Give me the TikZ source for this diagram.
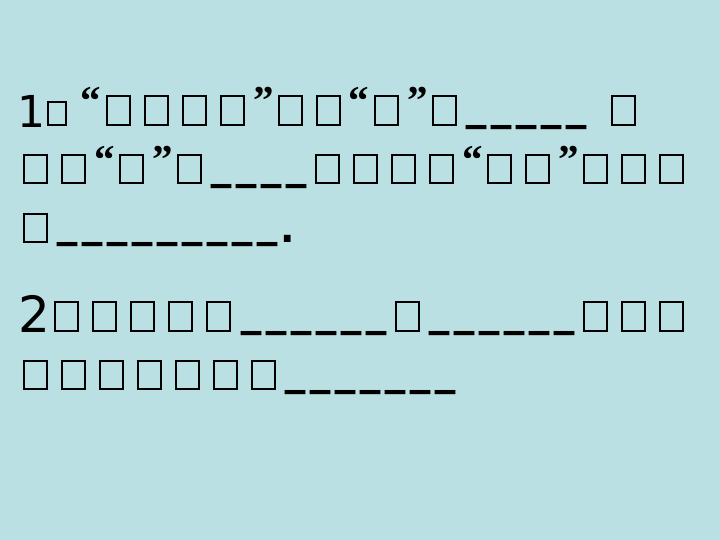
\documentclass[tikz,border=0pt]{standalone}
\usepackage{fontspec}
\setmainfont{DejaVu Sans}
\newfontfamily\quofont{Liberation Serif}[UprightFont=* Bold]
\usepackage{graphicx}
\definecolor{bgc}{RGB}{187,224,227}
\newcommand\dsh{\scalebox{1}[1.5]{\_}\kern5pt}
\tikzset{
  tofu/.style={draw=black, line width=1.6pt, inner sep=0pt, outer sep=0pt, anchor=north west, minimum width=23.4pt},
  digit/.style={inner sep=0pt, anchor=north west, font=\fontsize{44}{44}\selectfont},
  bigdigit/.style={inner sep=0pt, anchor=north west, font=\fontsize{50}{50}\selectfont},
  quo/.style={inner sep=0pt, anchor=north west, font=\quofont\fontsize{41}{41}\selectfont},
  blank/.style={inner sep=0pt, anchor=base west, font=\fontsize{40}{40}\selectfont},
  dot/.style={inner sep=0pt, anchor=base west, font=\bfseries\fontsize{38}{38}\selectfont}
}
\begin{document}
\begin{tikzpicture}[x=1pt,y=-1pt]
\fill[bgc] (0,0) rectangle (720,540);
\useasboundingbox (0,0) rectangle (720,540);
% ---------- line 1 ----------
\node[digit] (n1) at (17,95) {1};
\node[tofu, minimum width=18.4pt, minimum height=23.4pt] (c1) at (47.8,101.8) {};
\node[quo] (q1) at (80,87) {“};
\foreach \x [count=\i] in {106,144,182,220} \node[tofu, minimum height=29.4pt] (a\i) at (\x+0.8,95.8) {};
\node[quo] (q2) at (253,87) {”};
\foreach \x [count=\i] in {278,316} \node[tofu, minimum height=29.4pt] (b\i) at (\x+0.8,95.8) {};
\node[quo] (q3) at (348,87) {“};
\node[tofu, minimum height=29.4pt] (b3) at (374.8,95.8) {};
\node[quo] (q4) at (407,87) {”};
\node[tofu, minimum height=29.4pt] (b4) at (432.8,95.8) {};
\node[blank] (u1) at (466,115.5) {\dsh\dsh\dsh\dsh\dsh};
\node[tofu, minimum height=29.4pt] (b5) at (611.8,95.8) {};
% ---------- line 2 ----------
\foreach \x [count=\i] in {23,61} \node[tofu, minimum height=28.4pt] (d\i) at (\x+0.8,154.8) {};
\node[quo] (q5) at (94,146) {“};
\node[tofu, minimum height=28.4pt] (d3) at (119.8,154.8) {};
\node[quo] (q6) at (152,146) {”};
\node[tofu, minimum height=28.4pt] (d4) at (177.8,154.8) {};
\node[blank] (u2) at (211,174.5) {\dsh\dsh\dsh\dsh};
\foreach \x [count=\i] in {315,353,391,429} \node[tofu, minimum height=28.4pt] (e\i) at (\x+0.8,154.8) {};
\node[quo] (q7) at (462,146) {“};
\foreach \x [count=\i] in {487,525} \node[tofu, minimum height=28.4pt] (f\i) at (\x+0.8,154.8) {};
\node[quo] (q8) at (558,146) {”};
\foreach \x [count=\i] in {583,621,659} \node[tofu, minimum height=28.4pt] (g\i) at (\x+0.8,154.8) {};
% ---------- line 3 ----------
\node[tofu, minimum height=28.4pt] (h1) at (23.8,213.8) {};
\node[blank] (u3) at (57,232.5) {\dsh\dsh\dsh\dsh\dsh\dsh\dsh\dsh\dsh};
\node[dot] (p1) at (280,243) {.};
% ---------- line 4 ----------
\node[bigdigit] (n2) at (18,295) {2};
\foreach \x [count=\i] in {54,92,130,168,206} \node[tofu, minimum height=29.4pt] (k\i) at (\x+0.8,301.8) {};
\node[blank] (u4) at (241,321.5) {\dsh\dsh\dsh\dsh\dsh\dsh};
\node[tofu, minimum height=29.4pt] (k6) at (395.8,301.8) {};
\node[blank] (u5) at (429,321.5) {\dsh\dsh\dsh\dsh\dsh\dsh};
\foreach \x [count=\i] in {583,621,659} \node[tofu, minimum height=29.4pt] (m\i) at (\x+0.8,301.8) {};
% ---------- line 5 ----------
\foreach \x [count=\i] in {23,61,99,137,175,213,251} \node[tofu, minimum height=28.4pt] (r\i) at (\x+0.8,360.8) {};
\node[blank] (u6) at (285,380.5) {\dsh\dsh\dsh\dsh\dsh\dsh\dsh};
\end{tikzpicture}
\end{document}
